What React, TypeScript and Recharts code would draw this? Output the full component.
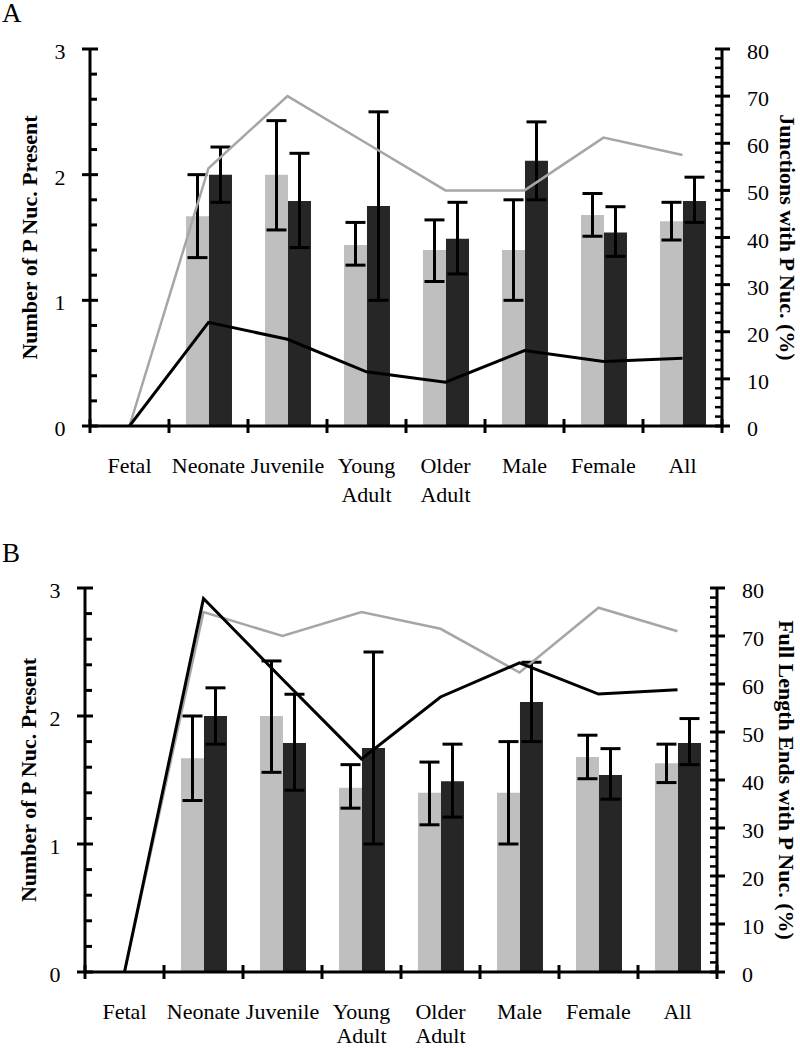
import React from 'react';
import { ComposedChart, Bar, Line, XAxis, YAxis, ErrorBar } from 'recharts';

const categories = ['Fetal', 'Neonate', 'Juvenile', 'Young Adult', 'Older Adult', 'Male', 'Female', 'All'];

// Bars (left axis, number of P nucleotides present)
const lightMean = [null, 1.67, 2.0, 1.44, 1.4, 1.4, 1.68, 1.63];
const lightLow = [null, 1.34, 1.56, 1.28, 1.15, 1.0, 1.51, 1.48];
const lightHigh = [null, 2.0, 2.43, 1.62, 1.64, 1.8, 1.85, 1.78];
const darkMean = [null, 2.0, 1.79, 1.75, 1.49, 2.11, 1.54, 1.79];
const darkLow = [null, 1.78, 1.42, 1.0, 1.21, 1.8, 1.35, 1.62];
const darkHigh = [null, 2.22, 2.17, 2.5, 1.78, 2.42, 1.745, 1.98];

// Lines (right axis, %)
const grayLineA = [0, 54.7, 70, 60, 50, 50, 61.2, 57.5];
const blackLineA = [0, 22, 18.4, 11.5, 9.3, 16, 13.7, 14.4];
const grayLineB = [0, 75, 70, 75, 71.5, 62.4, 75.9, 71];
const blackLineB = [0, 77.8, 61, 44.4, 57.3, 64.4, 57.9, 58.8];

const leftTicks = [0, 0.2, 0.4, 0.6, 0.8, 1, 1.2, 1.4, 1.6, 1.8, 2, 2.2, 2.4, 2.6, 2.8, 3];
const rightTicks = [0, 2, 4, 6, 8, 10, 12, 14, 16, 18, 20, 22, 24, 26, 28, 30, 32, 34, 36, 38, 40,
  42, 44, 46, 48, 50, 52, 54, 56, 58, 60, 62, 64, 66, 68, 70, 72, 74, 76, 78, 80];

const leftTitle = 'Number of P Nuc. Present';
const rightTitleA = 'Junctions with P Nuc. (%)';
const rightTitleB = 'Full Length Ends with P Nuc. (%)';

const FONT = '"Liberation Serif", "Times New Roman", Times, serif';

const panelA = {
  letter: 'A', top: 0, height: 524, plotTop: 49, plotBottom: 426, left: 90, right: 722,
  gray: grayLineA, black: blackLineA, rightTitle: rightTitleA, leftTitleX: 37, rightTitleX: 780, letterTop: 0,
  lineGap: 29,
};
const panelB = {
  letter: 'B', top: 524, height: 524, plotTop: 64, plotBottom: 448, left: 85, right: 717,
  gray: grayLineB, black: blackLineB, rightTitle: rightTitleB, leftTitleX: 35.5, rightTitleX: 779, letterTop: 16,
  lineGap: 24,
};

const isMajor = (v: number, step: number) => Math.abs(v / step - Math.round(v / step)) < 1e-6;

function Panel({ cfg }: { cfg: any }) {
  const data = categories.map((c, i) => ({
    category: c,
    light: lightMean[i],
    dark: darkMean[i],
    lightErr: lightMean[i] == null ? null : [(lightMean[i] as number) - (lightLow[i] as number), (lightHigh[i] as number) - (lightMean[i] as number)],
    darkErr: darkMean[i] == null ? null : [(darkMean[i] as number) - (darkLow[i] as number), (darkHigh[i] as number) - (darkMean[i] as number)],
    gray: cfg.gray[i],
    black: cfg.black[i],
  }));
  const band = (cfg.right - cfg.left) / categories.length;
  const cy = (cfg.plotTop + cfg.plotBottom) / 2;

  const xTick = (p: any) => {
    const { x, y, payload, index } = p;
    const lines = String(payload.value).split(' ');
    return (
      <g>
        <line x1={x - band / 2} x2={x - band / 2} y1={y - 7} y2={y + 7} stroke="#000" strokeWidth={3} />
        {index === categories.length - 1 && (
          <line x1={x + band / 2} x2={x + band / 2} y1={y - 7} y2={y + 7} stroke="#000" strokeWidth={3} />
        )}
        <text x={x} y={y + 47} textAnchor="middle" fontFamily={FONT} fontSize={22} fill="#000">
          {lines.map((l, i) => (
            <tspan key={i} x={x} dy={i === 0 ? 0 : cfg.lineGap}>{l}</tspan>
          ))}
        </text>
      </g>
    );
  };

  const leftTick = (p: any) => {
    const { x, y, payload } = p;
    const v = payload.value;
    const major = isMajor(v, 1);
    return (
      <g>
        {major ? (
          <line x1={x - 8} x2={x + 8} y1={y} y2={y} stroke="#000" strokeWidth={3} />
        ) : (
          <line x1={x} x2={x + 7} y1={y} y2={y} stroke="#000" strokeWidth={3} />
        )}
        {major && (
          <text x={x - 24.5} y={y + 10} textAnchor="end" fontFamily={FONT} fontSize={22} fill="#000">{Math.round(v)}</text>
        )}
      </g>
    );
  };

  const rightTick = (p: any) => {
    const { x, y, payload } = p;
    const v = payload.value;
    const major = isMajor(v, 10);
    return (
      <g>
        {major ? (
          <line x1={x - 7} x2={x + 8} y1={y} y2={y} stroke="#000" strokeWidth={3} />
        ) : (
          <line x1={x - 7} x2={x} y1={y} y2={y} stroke="#000" strokeWidth={2.5} />
        )}
        {major && (
          <text x={x + 25} y={y + 10} textAnchor="start" fontFamily={FONT} fontSize={22} fill="#000">{v}</text>
        )}
      </g>
    );
  };

  const leftLabel = () => (
    <text x={cfg.leftTitleX} y={cy} transform={`rotate(-90 ${cfg.leftTitleX} ${cy})`} textAnchor="middle"
      fontFamily={FONT} fontSize={22} fontWeight="bold" fill="#000">{leftTitle}</text>
  );
  const rightLabel = () => (
    <text x={cfg.rightTitleX} y={cy} transform={`rotate(90 ${cfg.rightTitleX} ${cy})`} textAnchor="middle"
      fontFamily={FONT} fontSize={22} fontWeight="bold" fill="#000">{cfg.rightTitle}</text>
  );

  return (
    <div style={{ position: 'absolute', left: 0, top: cfg.top, width: 800, height: cfg.height }}>
      <div style={{ position: 'absolute', left: 2, top: cfg.letterTop, fontFamily: FONT, fontSize: 27, lineHeight: '27px', color: '#000' }}>
        {cfg.letter}
      </div>
      <ComposedChart width={800} height={cfg.height} data={data}
        margin={{ top: cfg.plotTop, right: 0, bottom: 0, left: 0 }}
        barCategoryGap="21.5%" barGap={0} style={{ fontFamily: FONT }}>
        <XAxis dataKey="category" height={cfg.height - cfg.plotBottom} interval={0}
          axisLine={{ stroke: '#000', strokeWidth: 3 }} tickLine={false} tickSize={0} tickMargin={0} tick={xTick} />
        <YAxis yAxisId="left" orientation="left" width={cfg.left} domain={[0, 3]} ticks={leftTicks} interval={0}
          type="number" allowDataOverflow
          axisLine={{ stroke: '#000', strokeWidth: 3 }} tickLine={false} tickSize={0} tickMargin={0} tick={leftTick}
          label={leftLabel} />
        <YAxis yAxisId="right" orientation="right" width={800 - cfg.right} domain={[0, 80]} ticks={rightTicks} interval={0}
          type="number" allowDataOverflow
          axisLine={{ stroke: '#000', strokeWidth: 3 }} tickLine={false} tickSize={0} tickMargin={0} tick={rightTick}
          label={rightLabel} />
        <Bar yAxisId="left" dataKey="light" fill="#bfbfbf" isAnimationActive={false}>
          <ErrorBar dataKey="lightErr" direction="y" width={10} stroke="#000" strokeWidth={3} isAnimationActive={false} />
        </Bar>
        <Bar yAxisId="left" dataKey="dark" fill="#262626" isAnimationActive={false}>
          <ErrorBar dataKey="darkErr" direction="y" width={10} stroke="#000" strokeWidth={3} isAnimationActive={false} />
        </Bar>
        <Line yAxisId="right" type="linear" dataKey="gray" stroke="#a6a6a6" strokeWidth={2.5} dot={false} activeDot={false} isAnimationActive={false} />
        <Line yAxisId="right" type="linear" dataKey="black" stroke="#000" strokeWidth={3} dot={false} activeDot={false} isAnimationActive={false} />
      </ComposedChart>
    </div>
  );
}

export default function App() {
  return (
    <div style={{ position: 'absolute', left: 0, top: 0, width: 800, height: 1048, background: '#fff' }}>
      <Panel cfg={panelA} />
      <Panel cfg={panelB} />
    </div>
  );
}
